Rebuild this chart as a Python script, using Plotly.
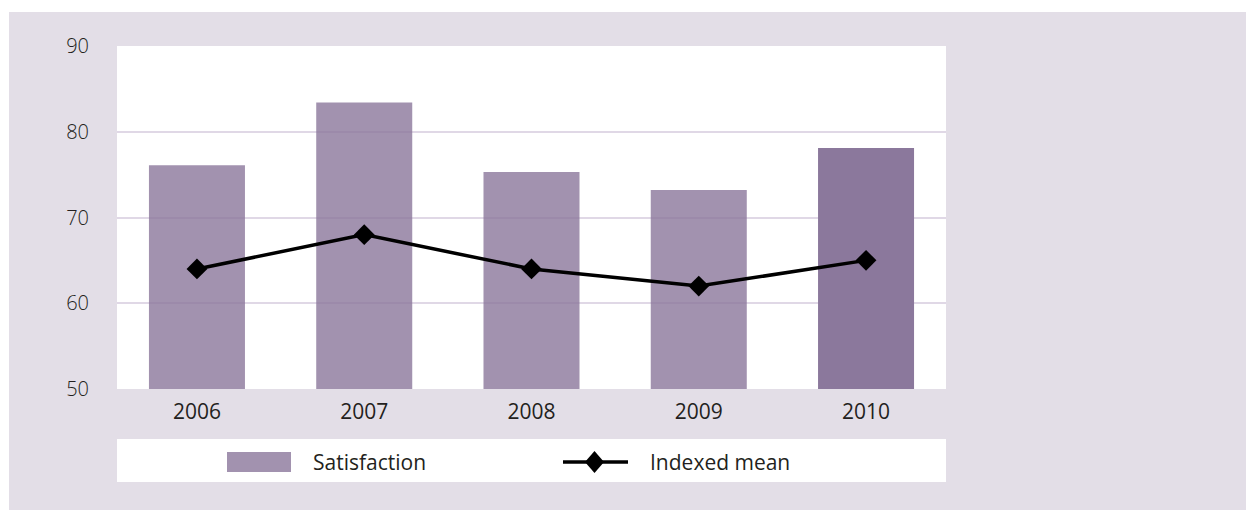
import plotly.graph_objects as go

# ---- data ----
years = ["2006", "2007", "2008", "2009", "2010"]
satisfaction = [76.1, 83.4, 75.3, 73.2, 78.1]
indexed_mean = [64, 68, 64, 62, 65]
y_tick_values = [50, 60, 70, 80, 90]
legend_labels = ["Satisfaction", "Indexed mean"]

# ---- styling ----
W, H = 1246, 510
PLOT_L, PLOT_R, PLOT_T, PLOT_B = 117, 946, 46, 389
FONT = "Open Sans"
TEXT = "#231f20"
PANEL_BG = "#e3dee7"
GRID = "#e0d8e6"
BAR_SOFT = "rgba(139,119,155,0.8)"
BAR_SOFT_SOLID = "#a292af"
BAR_HIGHLIGHT = "#8b789c"

bar_colors = [BAR_HIGHLIGHT if y == years[-1] else BAR_SOFT for y in years]


def px(x):
    """pixel x -> paper x"""
    return (x - PLOT_L) / (PLOT_R - PLOT_L)


def py(y):
    """pixel y -> paper y"""
    return (PLOT_B - y) / (PLOT_B - PLOT_T)


fig = go.Figure()

fig.add_trace(go.Bar(
    x=years, y=satisfaction, name=legend_labels[0],
    marker=dict(color=bar_colors, line=dict(width=0)),
    showlegend=False, hoverinfo="x+y",
))

fig.add_trace(go.Scatter(
    x=years, y=indexed_mean, name=legend_labels[1],
    mode="lines+markers",
    line=dict(color="black", width=3.5),
    marker=dict(symbol="diamond", size=16, color="black"),
    showlegend=False,
))

shapes = [
    # white page edges around the lavender panel
    dict(type="rect", xref="paper", yref="paper", layer="below",
         x0=px(-10), x1=px(1300), y0=py(12), y1=py(-10),
         fillcolor="white", line=dict(width=0)),
    dict(type="rect", xref="paper", yref="paper", layer="below",
         x0=px(-10), x1=px(9), y0=py(560), y1=py(-10),
         fillcolor="white", line=dict(width=0)),
    # legend box
    dict(type="rect", xref="paper", yref="paper", layer="below",
         x0=px(117), x1=px(946), y0=py(482), y1=py(439),
         fillcolor="white", line=dict(width=0)),
    # legend: bar swatch
    dict(type="rect", xref="paper", yref="paper", layer="above",
         x0=px(227), x1=px(291), y0=py(472), y1=py(452),
         fillcolor=BAR_SOFT_SOLID, line=dict(width=0)),
    # legend: line sample
    dict(type="line", xref="paper", yref="paper", layer="above",
         x0=px(563), x1=px(628), y0=py(462), y1=py(462),
         line=dict(color="black", width=3.5)),
    # legend: diamond sample
    dict(type="path", xref="paper", yref="paper", layer="above",
         path=(f"M {px(585)} {py(462)} L {px(594.5)} {py(451)} "
               f"L {px(604)} {py(462)} L {px(594.5)} {py(473)} Z"),
         fillcolor="black", line=dict(width=0)),
]

annotations = [
    dict(xref="paper", yref="paper", x=px(311), y=py(462),
         text=legend_labels[0], showarrow=False, xanchor="left",
         yanchor="middle", font=dict(family=FONT, size=21, color=TEXT)),
    dict(xref="paper", yref="paper", x=px(648), y=py(462),
         text=legend_labels[1], showarrow=False, xanchor="left",
         yanchor="middle", font=dict(family=FONT, size=21, color=TEXT)),
]

fig.update_layout(
    width=W, height=H, autosize=False,
    margin=dict(l=PLOT_L, r=W - PLOT_R, t=PLOT_T, b=H - PLOT_B, pad=0),
    paper_bgcolor=PANEL_BG,
    plot_bgcolor="white",
    bargap=0.426,
    showlegend=False,
    shapes=shapes,
    annotations=annotations,
    font=dict(family=FONT, color=TEXT),
)

fig.update_xaxes(
    type="category", range=[-0.478, 4.478],
    showgrid=False, zeroline=False, showline=False, ticks="",
    tickfont=dict(family=FONT, size=21, color=TEXT),
    ticklabelstandoff=8,
)

fig.update_yaxes(
    range=[50, 90], tickvals=y_tick_values,
    showgrid=True, gridcolor=GRID, gridwidth=2,
    zeroline=False, showline=False, ticks="",
    tickfont=dict(family=FONT, size=20, color=TEXT, weight=300),
    ticklabelstandoff=27,
)

fig.write_html("out.html")
